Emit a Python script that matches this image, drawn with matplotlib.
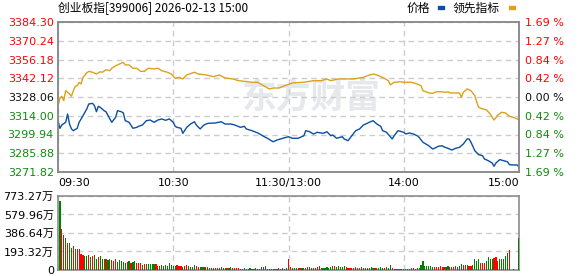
import numpy as np
import matplotlib.pyplot as plt
from matplotlib.patches import Rectangle

plt.rcParams['font.family'] = ['DejaVu Sans', 'Noto Sans CJK SC']
plt.rcParams['font.size'] = 8

title = '创业板指[399006] 2026-02-13 15:00'

# price line (blue): minute index, value
price_t = [0, 1, 2, 4, 5, 6, 7, 8, 10, 11, 13, 15, 16, 18, 19, 20, 21, 22, 24, 25,
           27, 28, 30, 31, 33, 34, 35, 37, 39, 41, 42, 44, 46, 48, 50, 52, 54, 56, 58, 60,
           61, 62, 64, 65, 67, 69, 71, 72, 74, 76, 78, 82, 85, 87, 90, 92, 95, 97, 98, 101,
           104, 107, 109, 112, 114, 117, 120, 122, 125, 128, 129, 131, 133, 135, 138, 140,
           142, 143, 145, 148, 149, 151, 153, 155, 157, 159, 161, 162, 164, 166, 168, 169,
           171, 174, 175, 177, 180, 181, 183, 185, 187, 188, 190, 193, 195, 196, 198, 200,
           201, 203, 205, 207, 209, 211, 213, 214, 215, 217, 219, 221, 222, 224, 226, 227,
           228, 230, 232, 234, 235, 237, 239, 240]
price_v = [3310.3, 3304.6, 3307.1, 3309.1, 3315.3, 3307.8, 3304.1, 3302.8, 3304.6, 3309.1,
           3314.0, 3319.1, 3322.8, 3323.3, 3321.5, 3317.0, 3321.1, 3320.3, 3317.8, 3317.0,
           3311.6, 3309.1, 3312.8, 3317.8, 3317.0, 3316.1, 3310.3, 3309.1, 3304.6, 3305.3,
           3306.1, 3307.1, 3310.3, 3310.8, 3309.1, 3310.8, 3311.6, 3310.6, 3311.6, 3309.1,
           3306.1, 3305.3, 3304.6, 3300.8, 3305.3, 3307.8, 3309.5, 3307.1, 3304.1, 3307.1,
           3308.3, 3308.6, 3309.5, 3307.8, 3307.8, 3307.1, 3305.3, 3306.1, 3304.1, 3302.8,
           3301.1, 3298.6, 3297.1, 3294.5, 3295.8, 3297.1, 3298.3, 3297.1, 3297.1, 3299.0,
           3302.8, 3302.0, 3300.3, 3301.6, 3300.8, 3302.0, 3299.0, 3299.6, 3297.1, 3298.3,
           3296.6, 3295.3, 3299.0, 3302.8, 3304.1, 3307.1, 3308.3, 3309.1, 3310.3, 3307.8,
           3306.1, 3302.8, 3301.6, 3296.6, 3299.0, 3302.8, 3301.6, 3300.3, 3301.1, 3300.3,
           3299.0, 3297.8, 3294.1, 3291.5, 3289.1, 3289.6, 3291.1, 3291.5, 3290.6, 3289.6,
           3288.3, 3289.6, 3290.3, 3292.8, 3296.6, 3296.6, 3294.1, 3287.8, 3284.8, 3284.1,
           3281.6, 3280.3, 3278.6, 3276.1, 3278.6, 3281.1, 3280.3, 3279.5, 3277.3, 3277.1,
           3277.1, 3275.8]

# leading index line (yellow)
lead_t = [0, 1, 2, 3, 4, 6, 7, 8, 9, 10, 11, 12, 13, 15, 16, 18, 20, 22, 23, 25,
          27, 28, 30, 32, 34, 35, 37, 39, 41, 43, 45, 47, 50, 52, 54, 57, 59, 61, 63, 65,
          67, 71, 73, 77, 81, 84, 87, 91, 94, 97, 101, 104, 107, 110, 112, 115, 118, 120,
          122, 128, 133, 137, 140, 142, 146, 150, 154, 159, 161, 164, 166, 169, 172, 173,
          175, 178, 180, 184, 187, 189, 190, 193, 195, 197, 199, 202, 203, 204, 209, 210,
          211, 213, 215, 217, 218, 219, 221, 223, 225, 227, 229, 231, 233, 235, 237, 240]
lead_v = [3321.5, 3327.1, 3328.6, 3325.3, 3332.8, 3330.3, 3328.6, 3332.8, 3336.1, 3336.5,
          3339.1, 3337.8, 3342.8, 3346.1, 3347.3, 3346.6, 3345.3, 3347.0, 3346.6, 3348.5,
          3347.8, 3349.6, 3351.5, 3352.8, 3354.1, 3352.1, 3352.1, 3349.6, 3349.6, 3347.3,
          3347.3, 3349.6, 3349.1, 3349.6, 3347.8, 3346.6, 3345.3, 3342.1, 3342.8, 3341.6,
          3344.6, 3346.6, 3345.3, 3344.6, 3343.3, 3344.6, 3342.3, 3341.6, 3340.3, 3339.8,
          3339.1, 3339.1, 3336.5, 3334.1, 3334.8, 3334.8, 3336.5, 3337.5, 3338.6, 3339.1,
          3340.3, 3340.3, 3341.6, 3340.3, 3341.6, 3341.6, 3341.6, 3342.8, 3344.0, 3345.3,
          3344.6, 3342.8, 3340.3, 3337.1, 3339.1, 3339.5, 3339.1, 3339.1, 3337.8, 3336.5,
          3332.8, 3331.1, 3330.8, 3332.0, 3332.0, 3331.6, 3332.0, 3331.1, 3331.1, 3327.8,
          3331.6, 3334.1, 3332.8, 3329.0, 3324.1, 3320.3, 3319.1, 3318.5, 3315.3, 3310.8,
          3314.6, 3316.6, 3316.1, 3313.6, 3312.8, 3311.0]

# volume per minute (万), 240 bars, r = up, g = down
volume = [717, 430, 367, 339, 283, 283, 234, 252, 220, 220,
          220, 168, 157, 147, 147, 157, 136, 147, 157, 115,
          136, 147, 115, 115, 115, 105, 115, 105, 95, 115,
          84, 105, 95, 84, 70, 84, 95, 77, 84, 95,
          77, 70, 77, 56, 63, 63, 63, 63, 63, 63,
          63, 42, 42, 56, 42, 52, 42, 70, 52, 42,
          42, 52, 42, 42, 35, 42, 52, 42, 35, 35,
          52, 42, 35, 28, 28, 28, 28, 28, 21, 21,
          21, 21, 21, 21, 28, 21, 21, 21, 21, 35,
          21, 21, 21, 21, 14, 14, 21, 14, 14, 21,
          10, 10, 21, 10, 14, 28, 35, 42, 14, 10,
          10, 10, 10, 14, 21, 10, 21, 10, 21,
          115, 35, 21, 21, 21, 21, 21, 21, 21, 21,
          28, 35, 21, 21, 21, 28, 45, 21, 21, 21,
          28, 21, 35, 42, 42, 35, 42, 35, 35, 42,
          28, 21, 21, 21, 21, 28, 21, 21, 28, 21,
          21, 21, 21, 28, 21, 21, 21, 21, 28, 21,
          21, 28, 21, 52, 21, 10, 10, 10, 10, 14,
          10, 10, 14, 10, 21, 21, 14, 21, 21, 56,
          91, 45, 38, 42, 45, 35, 35, 35, 35, 38,
          31, 31, 31, 45, 31, 28, 31, 38, 31, 38,
          66, 56, 49, 56, 38, 45, 56, 119, 98, 119,
          77, 77, 77, 98, 140, 112, 119, 129, 140, 98,
          112, 112, 112, 150, 182, 206, 0, 10, 0, 0, 339]
vol_dir = ('grrgrggrgr' 'rrrggrgrgg' 'rgggrggrrr' 'gggggrgrgg' 'rrrgrggggg'
           'rrggrggggg' 'grrrgrrggg' 'grrgggrrgg' 'grrrgggrgg' 'rrrrrrgggg'
           'grgggggggg' 'ggrrrgggg' 'rrgggrrggr' 'ggrrrrrggg' 'ggggrggggg'
           'rrrrrrrrgr' 'rggggrgggg' 'rgggrrrrrg' 'grgggrgggg' 'ggggggrrrr'
           'rrggrrrrgg' 'grrgrrgggg' 'rrrggggrrr' 'gggggrggggg')

price_ticks = ['3384.30', '3370.24', '3356.18', '3342.12', '3328.06',
               '3314.00', '3299.94', '3285.88', '3271.82']
pct_ticks = ['1.69 %', '1.27 %', '0.84 %', '0.42 %', '0.00 %',
             '0.42 %', '0.84 %', '1.27 %', '1.69 %']
vol_ticks = [0, 193.32, 386.64, 579.96, 773.27]
vol_labels = ['0', '193.32万', '386.64万', '579.96万', '773.27万']
time_pos = [0, 60, 120, 180, 240]
time_labels = ['09:30', '10:30', '11:30/13:00', '14:00', '15:00']

RED = '#ff0000'
GREEN = '#008000'
TXT_GREEN = '#108a10'
BLUE = '#0a4fa3'
GOLD = '#dba21c'
GRID = '#cccccc'

fig = plt.figure(figsize=(5.78, 2.76), dpi=100)
ax = fig.add_axes([58 / 578, 1 - 172 / 276, 461 / 578, 150 / 276])
axv = fig.add_axes([58 / 578, 1 - 270 / 276, 461 / 578, 74 / 276])

yt = [float(s) for s in price_ticks]
ax.set_xlim(0, 240)
ax.set_ylim(min(yt), max(yt))
ax.set_yticks(yt)
ax.set_yticklabels(price_ticks)
ax.set_xticks(time_pos)
ax.set_xticklabels(time_labels)
for i, lab in enumerate(ax.get_xticklabels()):
    lab.set_ha(['left', 'center', 'center', 'center', 'right'][i])
for i, lab in enumerate(ax.get_yticklabels()):
    lab.set_color(RED if i < 4 else ('#111111' if i == 4 else TXT_GREEN))
ax.tick_params(length=0, pad=3)
ax.tick_params(axis='x', pad=4)
ax.grid(True, color=GRID, linestyle=(0, (4, 3)), linewidth=1)

ax2 = ax.twinx()
ax2.set_ylim(ax.get_ylim())
ax2.set_yticks(yt)
ax2.set_yticklabels(pct_ticks)
for i, lab in enumerate(ax2.get_yticklabels()):
    lab.set_color(RED if i < 4 else ('#111111' if i == 4 else TXT_GREEN))
ax2.tick_params(length=0, pad=4)

ax.text(0.55, 0.50, '东方财富', transform=ax.transAxes, fontsize=25,
        fontweight='bold', color='#e7e8ec', ha='center', va='center',
        family='Noto Sans CJK SC', zorder=0)

ax.plot(lead_t, lead_v, color=GOLD, lw=1, zorder=3)
ax.plot(price_t, price_v, color=BLUE, lw=1, zorder=3)

for a in (ax, ax2, axv):
    for s in a.spines.values():
        s.set_color('#8c8c8c')
        s.set_linewidth(1.2)

# volume panel
xs = np.arange(1, len(volume) + 1)
cols = [RED if c == 'r' else GREEN for c in vol_dir]
axv.bar(xs, volume, width=0.62, color=cols, linewidth=0, antialiased=False, zorder=3)
axv.set_xlim(0, 240)
axv.set_ylim(0, 773.27)
axv.set_yticks(vol_ticks)
axv.set_yticklabels(vol_labels)
axv.set_xticks(time_pos)
axv.set_xticklabels([])
axv.tick_params(length=0, pad=3)
axv.grid(True, color=GRID, linestyle=(0, (4, 3)), linewidth=1)

fig.text(58 / 578, 1 - 8 / 276, title, fontsize=8.5, va='center', ha='left',
         family=['Noto Sans CJK SC', 'DejaVu Sans'])
fig.text(407 / 578, 1 - 8 / 276, '价格', fontsize=8.5, va='center', ha='left',
         family='Noto Sans CJK SC')
fig.text(453 / 578, 1 - 8 / 276, '领先指标', fontsize=8.5, va='center', ha='left',
         family='Noto Sans CJK SC')
fig.add_artist(Rectangle((438 / 578, 1 - 9 / 276), 6 / 578, 3 / 276,
                         transform=fig.transFigure, color=BLUE))
fig.add_artist(Rectangle((509 / 578, 1 - 9 / 276), 6 / 578, 3 / 276,
                         transform=fig.transFigure, color=GOLD))

fig.savefig('out.png', dpi=100)
